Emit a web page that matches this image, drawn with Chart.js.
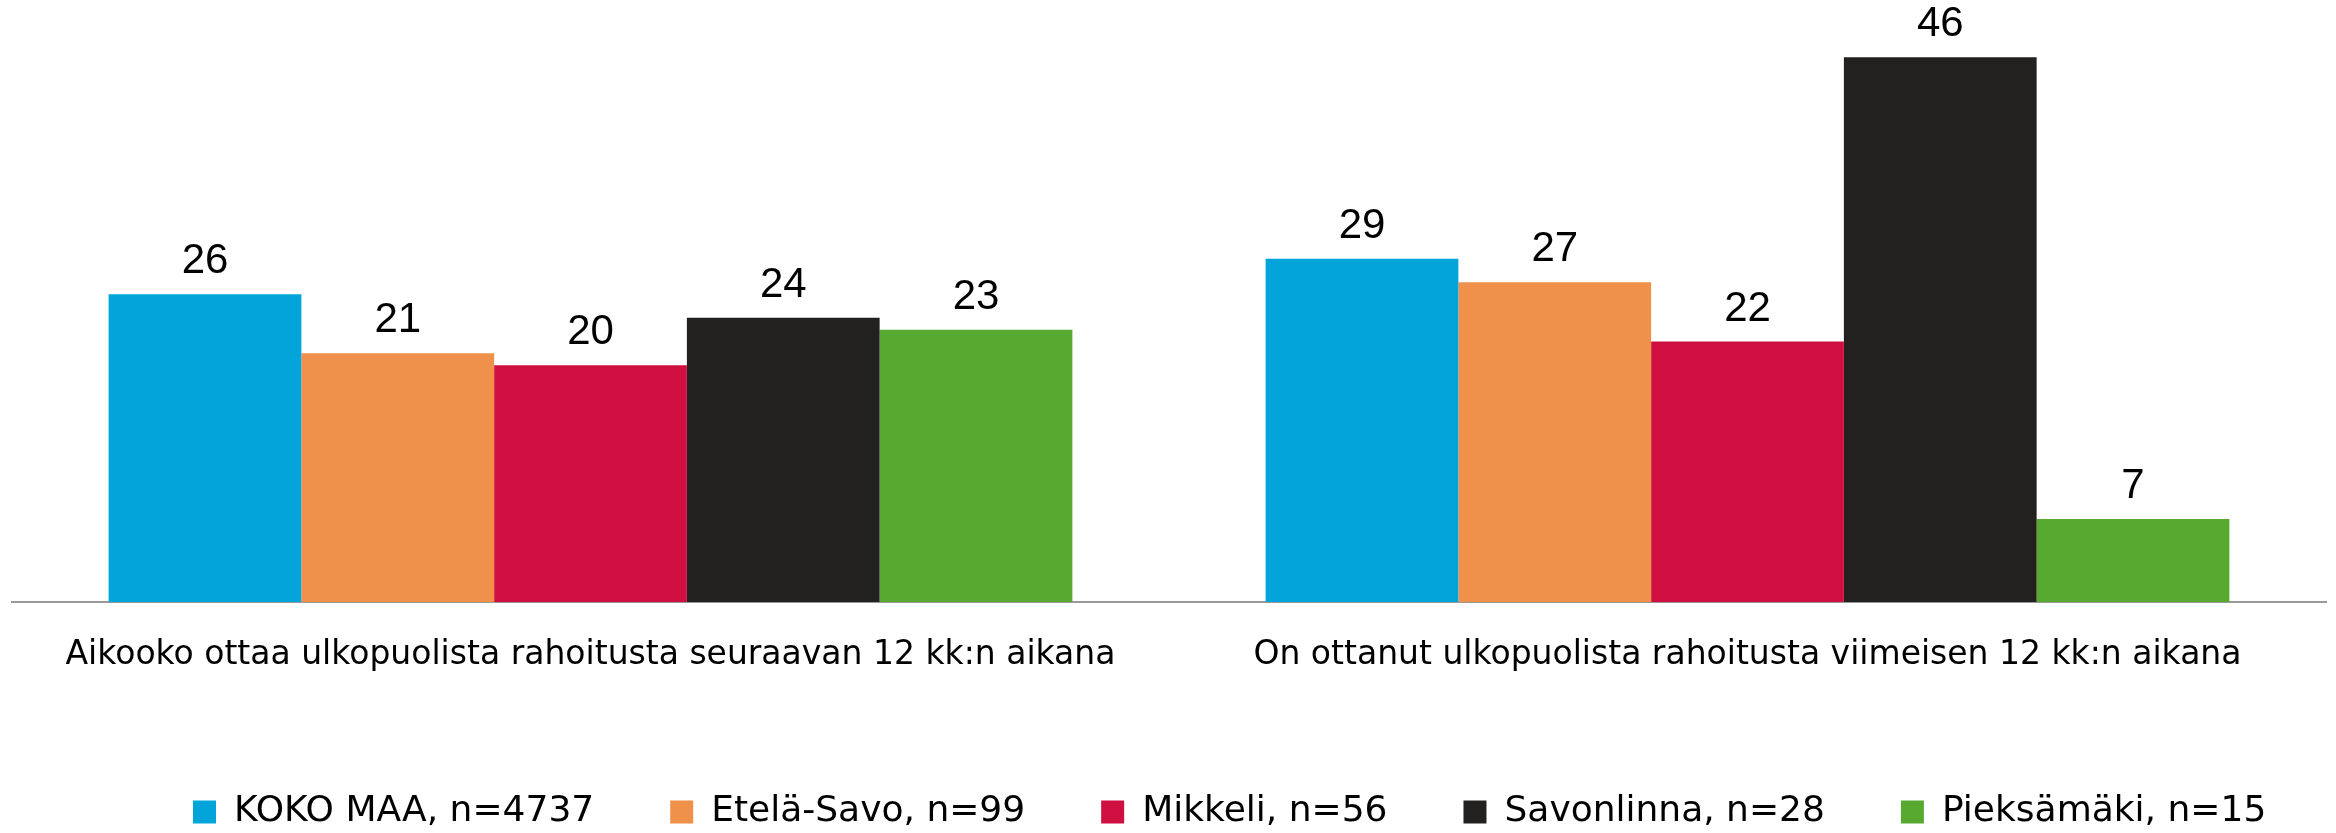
<!DOCTYPE html>
<html>
<head>
<meta charset="utf-8">
<script src="https://cdn.jsdelivr.net/npm/chart.js@4"></script>
<style>
  html, body { margin: 0; padding: 0; background: #fff; }
  #wrap { width: 2336px; height: 833px; }
</style>
</head>
<body>
<div id="wrap"><canvas id="myChart"></canvas></div>
<script>
var categories = [
  'Aikooko ottaa ulkopuolista rahoitusta seuraavan 12 kk:n aikana',
  'On ottanut ulkopuolista rahoitusta viimeisen 12 kk:n aikana'
];
var seriesNames = ['KOKO MAA, n=4737', 'Etelä-Savo, n=99', 'Mikkeli, n=56', 'Savonlinna, n=28', 'Pieksämäki, n=15'];
var kokoMaa = [26, 29];
var etelaSavo = [21, 27];
var mikkeli = [20, 22];
var savonlinna = [24, 46];
var pieksamaki = [23, 7];

var colors = ['#03a4da', '#f0914b', '#cf0f3f', '#22211f', '#58a92f'];
var seriesValues = [kokoMaa, etelaSavo, mikkeli, savonlinna, pieksamaki];

// values above the bars
var barLabels = {
  id: 'barLabels',
  afterDatasetsDraw: function(chart) {
    var ctx = chart.ctx;
    ctx.save();
    ctx.font = '42px "Liberation Sans"';
    ctx.fillStyle = '#000';
    ctx.textAlign = 'center';
    ctx.textBaseline = 'alphabetic';
    chart.data.datasets.forEach(function(ds, i) {
      chart.getDatasetMeta(i).data.forEach(function(bar, j) {
        ctx.fillText(ds.data[j], bar.x, bar.y - 21);
      });
    });
    ctx.restore();
  }
};

// move the legend to where it sits in the original
var legendShift = {
  id: 'legendShift',
  afterLayout: function(chart) {
    var lg = chart.legend;
    var h = lg.bottom - lg.top;
    var dx = 117 - lg.left;
    lg.left += dx;
    lg.right += dx;
    lg.top = 718;
    lg.bottom = lg.top + h;
  }
};

var datasets = seriesValues.map(function(vals, i) {
  return {
    label: seriesNames[i],
    data: vals,
    backgroundColor: colors[i],
    borderWidth: 0,
    barPercentage: 1.0,
    categoryPercentage: 0.833
  };
});

var ctx = document.getElementById('myChart').getContext('2d');
var myChart = new Chart(ctx, {
  type: 'bar',
  data: { labels: categories, datasets: datasets },
  plugins: [barLabels, legendShift],
  options: {
    responsive: true,
    maintainAspectRatio: false,
    animation: false,
    layout: { padding: { left: 12, right: 10, top: 10, bottom: 0 } },
    plugins: {
      tooltip: { enabled: false },
      legend: {
        position: 'bottom',
        align: 'start',
        labels: {
          boxWidth: 23,
          boxHeight: 23,
          padding: 76,
          color: '#000',
          font: { family: 'DejaVu Sans', size: 36 }
        }
      }
    },
    scales: {
      x: {
        afterFit: function(scale) { scale.height = 109; },
        grid: { display: false, drawTicks: false },
        border: { display: true, color: '#999', width: 2 },
        ticks: {
          padding: 34,
          color: '#000',
          maxRotation: 0,
          font: { family: 'DejaVu Sans', size: 33 }
        }
      },
      y: {
        display: false,
        min: 0,
        max: 50
      }
    }
  }
});
</script>
</body>
</html>
